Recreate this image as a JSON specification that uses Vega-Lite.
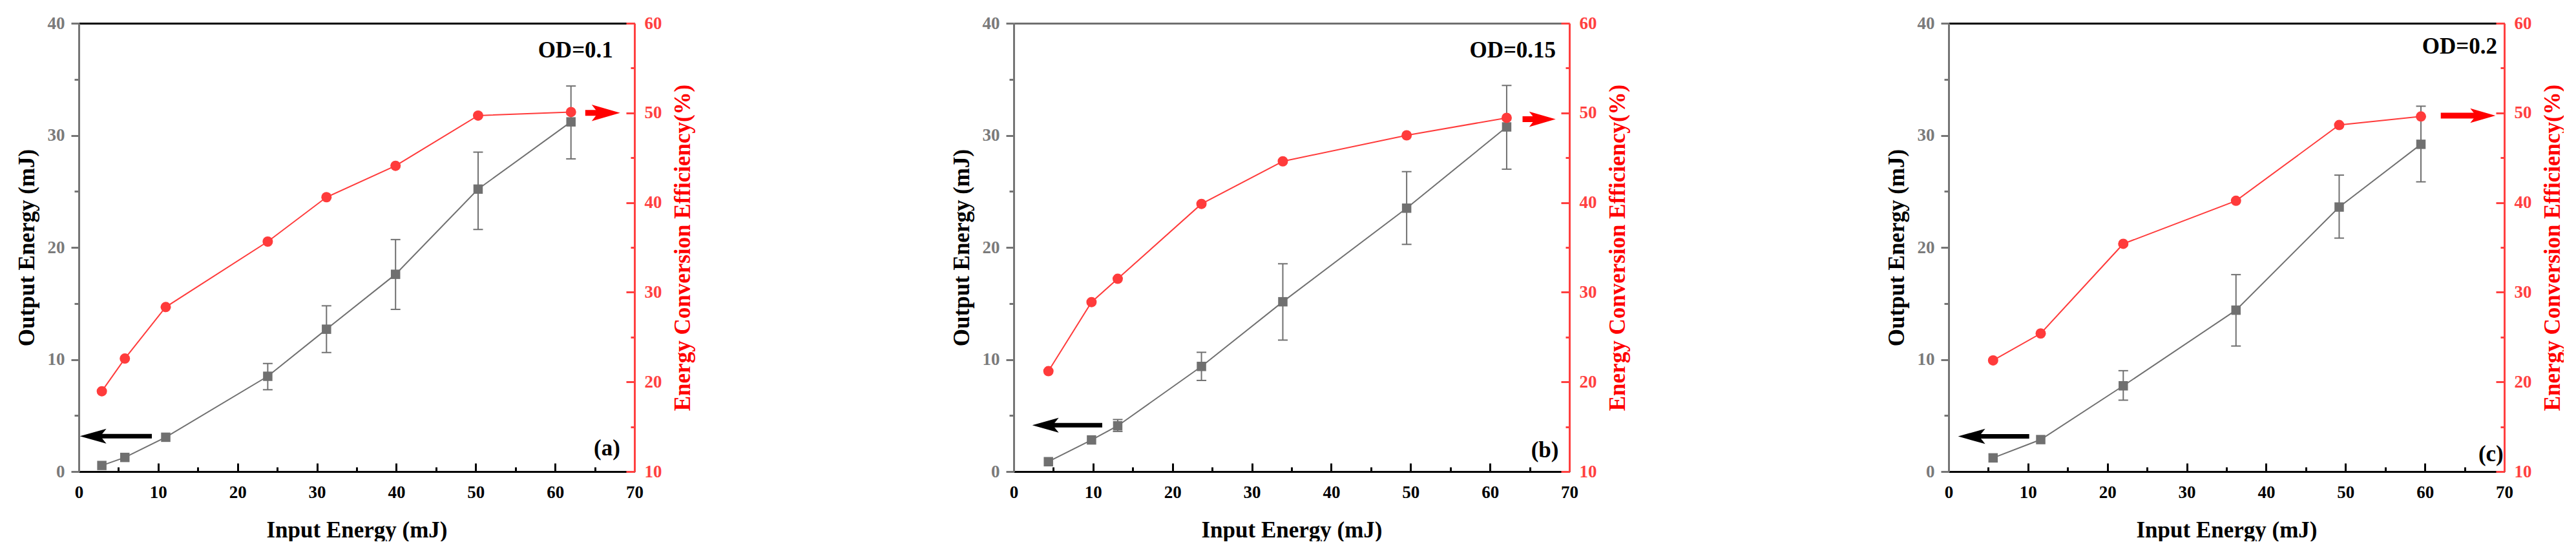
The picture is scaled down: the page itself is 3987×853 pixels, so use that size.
{
  "$schema": "https://vega.github.io/schema/vega-lite/v6.json",
  "background": "white",
  "padding": {"left": 24, "top": 22, "right": 0, "bottom": 0},
  "spacing": 397,
  "config": {
    "view": {"stroke": null},
    "font": "Liberation Serif",
    "axis": {
      "grid": false,
      "labelFont": "Liberation Serif",
      "labelFontSize": 27,
      "labelFontWeight": "bold",
      "labelFlush": false,
      "labelOverlap": false,
      "titleFont": "Liberation Serif",
      "titleFontSize": 35,
      "titleFontWeight": "bold",
      "domainWidth": 3,
      "tickWidth": 3
    }
  },
  "datasets": {
    "p1": [
      {"x": 2.9, "out": 0.54, "eff": 18.96},
      {"x": 5.8, "out": 1.26, "eff": 22.6},
      {"x": 10.95, "out": 3.06, "eff": 28.35},
      {"x": 23.8, "out": 8.5, "lo": 7.3, "hi": 9.64, "eff": 35.65},
      {"x": 31.2, "out": 12.7, "lo": 10.62, "hi": 14.79, "eff": 40.6},
      {"x": 39.9, "out": 17.6, "lo": 14.47, "hi": 20.7, "eff": 44.1},
      {"x": 50.3, "out": 25.2, "lo": 21.6, "hi": 28.5, "eff": 49.7},
      {"x": 62.0, "out": 31.2, "lo": 27.9, "hi": 34.4, "eff": 50.1}
    ],
    "p2": [
      {"x": 4.37, "out": 0.88, "eff": 21.2},
      {"x": 9.8, "out": 2.82, "eff": 28.9},
      {"x": 13.1, "out": 4.08, "lo": 3.58, "hi": 4.64, "eff": 31.5},
      {"x": 23.65, "out": 9.38, "lo": 8.13, "hi": 10.64, "eff": 39.85},
      {"x": 33.9, "out": 15.15, "lo": 11.73, "hi": 18.54, "eff": 44.6},
      {"x": 49.5, "out": 23.5, "lo": 20.27, "hi": 26.76, "eff": 47.5},
      {"x": 62.1, "out": 30.75, "lo": 26.98, "hi": 34.45, "eff": 49.45}
    ],
    "p3": [
      {"x": 5.6, "out": 1.22, "eff": 22.4},
      {"x": 11.6, "out": 2.85, "eff": 25.4},
      {"x": 22.0, "out": 7.65, "lo": 6.37, "hi": 9.0, "eff": 35.4},
      {"x": 36.2, "out": 14.4, "lo": 11.2, "hi": 17.57, "eff": 40.2},
      {"x": 49.2, "out": 23.6, "lo": 20.83, "hi": 26.45, "eff": 48.65},
      {"x": 59.5, "out": 29.2, "lo": 25.85, "hi": 32.6, "eff": 49.6}
    ]
  },
  "hconcat": [
    {
      "width": 860,
      "height": 694,
      "data": {"name": "p1"},
      "resolve": {"scale": {"y": "independent"}, "axis": {"x": "independent"}},
      "layer": [
        {
          "layer": [
            {
              "transform": [{"filter": "datum.lo != null"}],
              "mark": {"type": "rule", "color": "#707070", "strokeWidth": 2},
              "encoding": {
                "x": {"field": "x", "type": "quantitative"},
                "y": {"field": "lo", "type": "quantitative"},
                "y2": {"field": "hi"}
              }
            },
            {
              "transform": [{"filter": "datum.lo != null"}],
              "mark": {"type": "tick", "orient": "horizontal", "color": "#707070", "size": 15, "thickness": 2, "opacity": 1},
              "encoding": {
                "x": {"field": "x", "type": "quantitative"},
                "y": {"field": "lo", "type": "quantitative"}
              }
            },
            {
              "transform": [{"filter": "datum.lo != null"}],
              "mark": {"type": "tick", "orient": "horizontal", "color": "#707070", "size": 15, "thickness": 2, "opacity": 1},
              "encoding": {
                "x": {"field": "x", "type": "quantitative"},
                "y": {"field": "hi", "type": "quantitative"}
              }
            },
            {
              "mark": {"type": "line", "color": "#707070", "strokeWidth": 2},
              "encoding": {
                "x": {
                  "field": "x", "type": "quantitative",
                  "scale": {"domain": [0, 70], "nice": false},
                  "axis": {
                    "orient": "bottom", "title": "Input Energy (mJ)",
                    "values": [0, 5, 10, 15, 20, 25, 30, 35, 40, 45, 50, 55, 60, 65, 70],
                    "labelExpr": "datum.value % 10 === 0 ? datum.label : ''",
                    "tickSize": {"condition": {"test": "datum.value % 10 === 0", "value": -13}, "value": -7},
                    "labelPadding": 32, "titlePadding": 22,
                    "domainColor": "black", "tickColor": "black", "labelColor": "black", "titleColor": "black"
                  }
                },
                "y": {
                  "field": "out", "type": "quantitative",
                  "scale": {"domain": [0, 40], "nice": false},
                  "axis": {
                    "orient": "left", "title": "Output Energy (mJ)",
                    "values": [0, 5, 10, 15, 20, 25, 30, 35, 40],
                    "labelExpr": "datum.value % 10 === 0 ? datum.label : ''",
                    "tickSize": {"condition": {"test": "datum.value % 10 === 0", "value": 12}, "value": 7},
                    "labelPadding": 10, "titlePadding": 14,
                    "domainColor": "#757575", "tickColor": "#757575", "labelColor": "#7a7a7a", "titleColor": "black"
                  }
                }
              }
            },
            {
              "mark": {"type": "point", "shape": "square", "filled": true, "size": 210, "color": "#707070", "opacity": 1},
              "encoding": {
                "x": {"field": "x", "type": "quantitative"},
                "y": {"field": "out", "type": "quantitative"}
              }
            },
            {
              "data": {"values": [{"head": 1.8, "end": 9.2, "y": 3.16}]},
              "mark": {"type": "rule", "color": "black", "strokeWidth": 7},
              "encoding": {
                "x": {"field": "head", "type": "quantitative"},
                "x2": {"field": "end"},
                "y": {"field": "y", "type": "quantitative"}
              }
            },
            {
              "data": {"values": [{"head": 1.8, "end": 9.2, "y": 3.16}]},
              "mark": {"type": "point", "shape": "M -1 0 L 1 -0.56 L 0.55 0 L 1 0.56 Z", "filled": true, "color": "black", "size": 1681, "opacity": 1},
              "encoding": {
                "x": {"field": "head", "type": "quantitative"},
                "y": {"field": "y", "type": "quantitative"}
              }
            },
            {
              "data": {"values": [{"x": 67.3, "y": 37.6, "label": "OD=0.1"}, {"x": 68.2, "y": 2.1, "label": "(a)"}]},
              "mark": {"type": "text", "align": "right", "baseline": "middle", "font": "Liberation Serif", "fontSize": 35, "fontWeight": "bold", "color": "black"},
              "encoding": {
                "x": {"field": "x", "type": "quantitative"},
                "y": {"field": "y", "type": "quantitative"},
                "text": {"field": "label"}
              }
            }
          ]
        },
        {
          "layer": [
            {
              "mark": {"type": "line", "color": "#ff3b3b", "strokeWidth": 2},
              "encoding": {
                "x": {
                  "field": "x", "type": "quantitative",
                  "axis": {"orient": "top", "title": "", "labels": false, "ticks": false, "domainColor": "black"}
                },
                "y": {
                  "field": "eff", "type": "quantitative",
                  "scale": {"domain": [10, 60], "nice": false},
                  "axis": {
                    "orient": "right", "title": "Energy Conversion Efficiency(%)",
                    "titleAngle": 270, "titleBaseline": "top",
                    "values": [10, 15, 20, 25, 30, 35, 40, 45, 50, 55, 60],
                    "labelExpr": "datum.value % 10 === 0 ? datum.label : ''",
                    "tickSize": {"condition": {"test": "datum.value % 10 === 0", "value": -13}, "value": -6},
                    "labelPadding": 28, "titlePadding": 15,
                    "domainColor": "#ff4040", "tickColor": "#ff4040", "labelColor": "#ff4040", "titleColor": "#ff0000"
                  }
                }
              }
            },
            {
              "mark": {"type": "point", "shape": "circle", "filled": true, "size": 256, "color": "#ff3b3b", "opacity": 1},
              "encoding": {
                "x": {"field": "x", "type": "quantitative"},
                "y": {"field": "eff", "type": "quantitative"}
              }
            },
            {
              "data": {"values": [{"start": 63.8, "head": 66.4, "y": 50}]},
              "mark": {"type": "rule", "color": "#ff0000", "strokeWidth": 9},
              "encoding": {
                "x": {"field": "start", "type": "quantitative"},
                "x2": {"field": "head"},
                "y": {"field": "y", "type": "quantitative"}
              }
            },
            {
              "data": {"values": [{"start": 63.8, "head": 66.4, "y": 50}]},
              "mark": {"type": "point", "shape": "M 1 0 L -1 -0.58 L -0.55 0 L -1 0.58 Z", "filled": true, "color": "#ff0000", "size": 1936, "opacity": 1},
              "encoding": {
                "x": {"field": "head", "type": "quantitative"},
                "y": {"field": "y", "type": "quantitative"}
              }
            }
          ]
        }
      ]
    },
    {
      "width": 860,
      "height": 694,
      "data": {"name": "p2"},
      "resolve": {"scale": {"y": "independent"}, "axis": {"x": "independent"}},
      "layer": [
        {
          "layer": [
            {
              "transform": [{"filter": "datum.lo != null"}],
              "mark": {"type": "rule", "color": "#707070", "strokeWidth": 2},
              "encoding": {
                "x": {"field": "x", "type": "quantitative"},
                "y": {"field": "lo", "type": "quantitative"},
                "y2": {"field": "hi"}
              }
            },
            {
              "transform": [{"filter": "datum.lo != null"}],
              "mark": {"type": "tick", "orient": "horizontal", "color": "#707070", "size": 15, "thickness": 2, "opacity": 1},
              "encoding": {
                "x": {"field": "x", "type": "quantitative"},
                "y": {"field": "lo", "type": "quantitative"}
              }
            },
            {
              "transform": [{"filter": "datum.lo != null"}],
              "mark": {"type": "tick", "orient": "horizontal", "color": "#707070", "size": 15, "thickness": 2, "opacity": 1},
              "encoding": {
                "x": {"field": "x", "type": "quantitative"},
                "y": {"field": "hi", "type": "quantitative"}
              }
            },
            {
              "mark": {"type": "line", "color": "#707070", "strokeWidth": 2},
              "encoding": {
                "x": {
                  "field": "x", "type": "quantitative",
                  "scale": {"domain": [0, 70], "nice": false},
                  "axis": {
                    "orient": "bottom", "title": "Input Energy (mJ)",
                    "values": [0, 5, 10, 15, 20, 25, 30, 35, 40, 45, 50, 55, 60, 65, 70],
                    "labelExpr": "datum.value % 10 === 0 ? datum.label : ''",
                    "tickSize": {"condition": {"test": "datum.value % 10 === 0", "value": -13}, "value": -7},
                    "labelPadding": 32, "titlePadding": 22,
                    "domainColor": "black", "tickColor": "black", "labelColor": "black", "titleColor": "black"
                  }
                },
                "y": {
                  "field": "out", "type": "quantitative",
                  "scale": {"domain": [0, 40], "nice": false},
                  "axis": {
                    "orient": "left", "title": "Output Energy (mJ)",
                    "values": [0, 5, 10, 15, 20, 25, 30, 35, 40],
                    "labelExpr": "datum.value % 10 === 0 ? datum.label : ''",
                    "tickSize": {"condition": {"test": "datum.value % 10 === 0", "value": 12}, "value": 7},
                    "labelPadding": 10, "titlePadding": 14,
                    "domainColor": "#757575", "tickColor": "#757575", "labelColor": "#7a7a7a", "titleColor": "black"
                  }
                }
              }
            },
            {
              "mark": {"type": "point", "shape": "square", "filled": true, "size": 210, "color": "#707070", "opacity": 1},
              "encoding": {
                "x": {"field": "x", "type": "quantitative"},
                "y": {"field": "out", "type": "quantitative"}
              }
            },
            {
              "data": {"values": [{"head": 4.0, "end": 11.15, "y": 4.14}]},
              "mark": {"type": "rule", "color": "black", "strokeWidth": 7},
              "encoding": {
                "x": {"field": "head", "type": "quantitative"},
                "x2": {"field": "end"},
                "y": {"field": "y", "type": "quantitative"}
              }
            },
            {
              "data": {"values": [{"head": 4.0, "end": 11.15, "y": 4.14}]},
              "mark": {"type": "point", "shape": "M -1 0 L 1 -0.56 L 0.55 0 L 1 0.56 Z", "filled": true, "color": "black", "size": 1681, "opacity": 1},
              "encoding": {
                "x": {"field": "head", "type": "quantitative"},
                "y": {"field": "y", "type": "quantitative"}
              }
            },
            {
              "data": {"values": [{"x": 68.3, "y": 37.6, "label": "OD=0.15"}, {"x": 68.65, "y": 1.9, "label": "(b)"}]},
              "mark": {"type": "text", "align": "right", "baseline": "middle", "font": "Liberation Serif", "fontSize": 35, "fontWeight": "bold", "color": "black"},
              "encoding": {
                "x": {"field": "x", "type": "quantitative"},
                "y": {"field": "y", "type": "quantitative"},
                "text": {"field": "label"}
              }
            }
          ]
        },
        {
          "layer": [
            {
              "mark": {"type": "line", "color": "#ff3b3b", "strokeWidth": 2},
              "encoding": {
                "x": {
                  "field": "x", "type": "quantitative",
                  "axis": {"orient": "top", "title": "", "labels": false, "ticks": false, "domainColor": "#707070"}
                },
                "y": {
                  "field": "eff", "type": "quantitative",
                  "scale": {"domain": [10, 60], "nice": false},
                  "axis": {
                    "orient": "right", "title": "Energy Conversion Efficiency(%)",
                    "titleAngle": 270, "titleBaseline": "top",
                    "values": [10, 15, 20, 25, 30, 35, 40, 45, 50, 55, 60],
                    "labelExpr": "datum.value % 10 === 0 ? datum.label : ''",
                    "tickSize": {"condition": {"test": "datum.value % 10 === 0", "value": -13}, "value": -6},
                    "labelPadding": 28, "titlePadding": 15,
                    "domainColor": "#ff4040", "tickColor": "#ff4040", "labelColor": "#ff4040", "titleColor": "#ff0000"
                  }
                }
              }
            },
            {
              "mark": {"type": "point", "shape": "circle", "filled": true, "size": 256, "color": "#ff3b3b", "opacity": 1},
              "encoding": {
                "x": {"field": "x", "type": "quantitative"},
                "y": {"field": "eff", "type": "quantitative"}
              }
            },
            {
              "data": {"values": [{"start": 64.1, "head": 66.6, "y": 49.3}]},
              "mark": {"type": "rule", "color": "#ff0000", "strokeWidth": 9},
              "encoding": {
                "x": {"field": "start", "type": "quantitative"},
                "x2": {"field": "head"},
                "y": {"field": "y", "type": "quantitative"}
              }
            },
            {
              "data": {"values": [{"start": 64.1, "head": 66.6, "y": 49.3}]},
              "mark": {"type": "point", "shape": "M 1 0 L -1 -0.58 L -0.55 0 L -1 0.58 Z", "filled": true, "color": "#ff0000", "size": 1681, "opacity": 1},
              "encoding": {
                "x": {"field": "head", "type": "quantitative"},
                "y": {"field": "y", "type": "quantitative"}
              }
            }
          ]
        }
      ]
    },
    {
      "width": 860,
      "height": 694,
      "data": {"name": "p3"},
      "resolve": {"scale": {"y": "independent"}, "axis": {"x": "independent"}},
      "layer": [
        {
          "layer": [
            {
              "transform": [{"filter": "datum.lo != null"}],
              "mark": {"type": "rule", "color": "#707070", "strokeWidth": 2},
              "encoding": {
                "x": {"field": "x", "type": "quantitative"},
                "y": {"field": "lo", "type": "quantitative"},
                "y2": {"field": "hi"}
              }
            },
            {
              "transform": [{"filter": "datum.lo != null"}],
              "mark": {"type": "tick", "orient": "horizontal", "color": "#707070", "size": 15, "thickness": 2, "opacity": 1},
              "encoding": {
                "x": {"field": "x", "type": "quantitative"},
                "y": {"field": "lo", "type": "quantitative"}
              }
            },
            {
              "transform": [{"filter": "datum.lo != null"}],
              "mark": {"type": "tick", "orient": "horizontal", "color": "#707070", "size": 15, "thickness": 2, "opacity": 1},
              "encoding": {
                "x": {"field": "x", "type": "quantitative"},
                "y": {"field": "hi", "type": "quantitative"}
              }
            },
            {
              "mark": {"type": "line", "color": "#707070", "strokeWidth": 2},
              "encoding": {
                "x": {
                  "field": "x", "type": "quantitative",
                  "scale": {"domain": [0, 70], "nice": false},
                  "axis": {
                    "orient": "bottom", "title": "Input Energy (mJ)",
                    "values": [0, 5, 10, 15, 20, 25, 30, 35, 40, 45, 50, 55, 60, 65, 70],
                    "labelExpr": "datum.value % 10 === 0 ? datum.label : ''",
                    "tickSize": {"condition": {"test": "datum.value % 10 === 0", "value": -13}, "value": -7},
                    "labelPadding": 32, "titlePadding": 22,
                    "domainColor": "black", "tickColor": "black", "labelColor": "black", "titleColor": "black"
                  }
                },
                "y": {
                  "field": "out", "type": "quantitative",
                  "scale": {"domain": [0, 40], "nice": false},
                  "axis": {
                    "orient": "left", "title": "Output Energy (mJ)",
                    "values": [0, 5, 10, 15, 20, 25, 30, 35, 40],
                    "labelExpr": "datum.value % 10 === 0 ? datum.label : ''",
                    "tickSize": {"condition": {"test": "datum.value % 10 === 0", "value": 12}, "value": 7},
                    "labelPadding": 10, "titlePadding": 14,
                    "domainColor": "#757575", "tickColor": "#757575", "labelColor": "#7a7a7a", "titleColor": "black"
                  }
                }
              }
            },
            {
              "mark": {"type": "point", "shape": "square", "filled": true, "size": 210, "color": "#707070", "opacity": 1},
              "encoding": {
                "x": {"field": "x", "type": "quantitative"},
                "y": {"field": "out", "type": "quantitative"}
              }
            },
            {
              "data": {"values": [{"head": 2.9, "end": 10.15, "y": 3.14}]},
              "mark": {"type": "rule", "color": "black", "strokeWidth": 7},
              "encoding": {
                "x": {"field": "head", "type": "quantitative"},
                "x2": {"field": "end"},
                "y": {"field": "y", "type": "quantitative"}
              }
            },
            {
              "data": {"values": [{"head": 2.9, "end": 10.15, "y": 3.14}]},
              "mark": {"type": "point", "shape": "M -1 0 L 1 -0.56 L 0.55 0 L 1 0.56 Z", "filled": true, "color": "black", "size": 1764, "opacity": 1},
              "encoding": {
                "x": {"field": "head", "type": "quantitative"},
                "y": {"field": "y", "type": "quantitative"}
              }
            },
            {
              "data": {"values": [{"x": 69.1, "y": 37.9, "label": "OD=0.2"}, {"x": 69.9, "y": 1.57, "label": "(c)"}]},
              "mark": {"type": "text", "align": "right", "baseline": "middle", "font": "Liberation Serif", "fontSize": 35, "fontWeight": "bold", "color": "black"},
              "encoding": {
                "x": {"field": "x", "type": "quantitative"},
                "y": {"field": "y", "type": "quantitative"},
                "text": {"field": "label"}
              }
            }
          ]
        },
        {
          "layer": [
            {
              "mark": {"type": "line", "color": "#ff3b3b", "strokeWidth": 2},
              "encoding": {
                "x": {
                  "field": "x", "type": "quantitative",
                  "axis": {"orient": "top", "title": "", "labels": false, "ticks": false, "domainColor": "black"}
                },
                "y": {
                  "field": "eff", "type": "quantitative",
                  "scale": {"domain": [10, 60], "nice": false},
                  "axis": {
                    "orient": "right", "title": "Energy Conversion Efficiency(%)",
                    "titleAngle": 270, "titleBaseline": "top",
                    "values": [10, 15, 20, 25, 30, 35, 40, 45, 50, 55, 60],
                    "labelExpr": "datum.value % 10 === 0 ? datum.label : ''",
                    "tickSize": {"condition": {"test": "datum.value % 10 === 0", "value": -13}, "value": -6},
                    "labelPadding": 28, "titlePadding": 15,
                    "domainColor": "#ff4040", "tickColor": "#ff4040", "labelColor": "#ff4040", "titleColor": "#ff0000"
                  }
                }
              }
            },
            {
              "mark": {"type": "point", "shape": "circle", "filled": true, "size": 256, "color": "#ff3b3b", "opacity": 1},
              "encoding": {
                "x": {"field": "x", "type": "quantitative"},
                "y": {"field": "eff", "type": "quantitative"}
              }
            },
            {
              "data": {"values": [{"start": 62.0, "head": 67.3, "y": 49.7}]},
              "mark": {"type": "rule", "color": "#ff0000", "strokeWidth": 9},
              "encoding": {
                "x": {"field": "start", "type": "quantitative"},
                "x2": {"field": "head"},
                "y": {"field": "y", "type": "quantitative"}
              }
            },
            {
              "data": {"values": [{"start": 62.0, "head": 67.3, "y": 49.7}]},
              "mark": {"type": "point", "shape": "M 1 0 L -1 -0.58 L -0.55 0 L -1 0.58 Z", "filled": true, "color": "#ff0000", "size": 1521, "opacity": 1},
              "encoding": {
                "x": {"field": "head", "type": "quantitative"},
                "y": {"field": "y", "type": "quantitative"}
              }
            }
          ]
        }
      ]
    }
  ]
}
